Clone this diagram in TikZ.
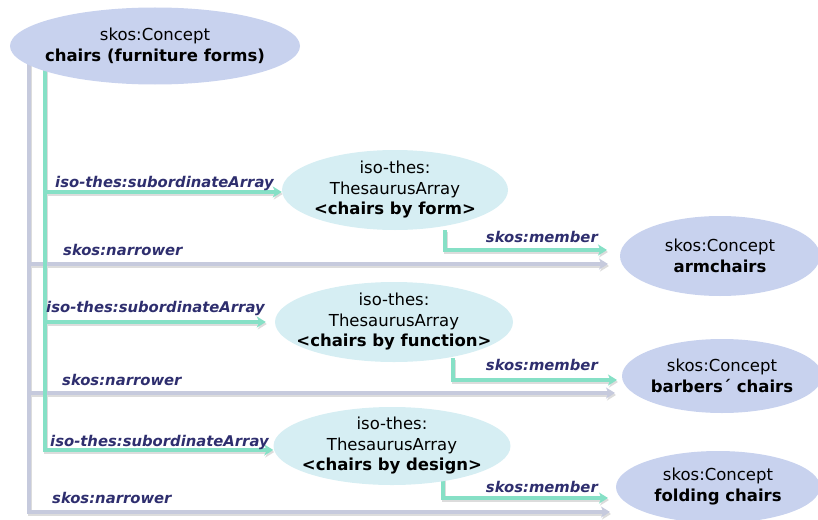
\documentclass[tikz,border=0pt]{standalone}
\usepackage{fontspec}
\setmainfont{DejaVu Sans}
\usetikzlibrary{shapes.geometric,arrows.meta,backgrounds}
\definecolor{conceptfill}{HTML}{C8D2EE}
\definecolor{arrayfill}{HTML}{D6EEF3}
\definecolor{tealline}{HTML}{86E0C6}
\definecolor{grayline}{HTML}{C6CADD}
\definecolor{shadowcol}{HTML}{DCDCDC}
\definecolor{labelcol}{HTML}{2E2E6E}
\newcommand\myconnectors[2]{%
  \draw[#1] (top.center -| gx) |- (n1);
  \draw[#1] (top.center -| gx) |- (n2);
  \draw[#1] (top.center -| gx) |- (n3);
  \draw[#2] (top.center -| tx) |- ([yshift=-2pt]a1.west);
  \draw[#2,shorten >=9pt] (top.center -| tx) |- (a2.west);
  \draw[#2] (top.center -| tx) |- ([yshift=-4pt]a3.west);
  \draw[#2] (m1s) |- (m1e);
  \draw[#2] (m2s) |- (m2e);
  \draw[#2] (m3s) |- (m3e);
}
\begin{document}
\begin{tikzpicture}[x=1pt,y=-1pt,
  concept/.style={ellipse,fill=conceptfill,inner xsep=-45pt,inner ysep=-20pt,align=center,font=\fontsize{16.5}{21}\selectfont},
  thesarray/.style={ellipse,fill=arrayfill,inner xsep=-45pt,inner ysep=-20pt,align=center,font=\fontsize{16.5}{20.5}\selectfont},
  rel/.style={font=\fontsize{14.8}{16}\selectfont\bfseries\itshape,text=labelcol,inner sep=0pt,anchor=west},
  tipstyle/.style={-{Stealth[length=9pt,width=11pt,inset=2.5pt]}},
  narrowerline/.style={draw=grayline,line width=3.5pt,tipstyle},
  subline/.style={draw=tealline,line width=3.5pt,tipstyle},
  shadowline/.style={draw=shadowcol,line width=3.5pt,tipstyle,transform canvas={shift={(1pt,-2pt)}}},
]
\useasboundingbox (0,0) rectangle (818,519);

% nodes
\node[concept,minimum width=290pt,minimum height=77pt] (top) at (155,46) {skos:Concept\\\textbf{chairs (furniture forms)}};
\node[thesarray,minimum width=226pt,minimum height=80pt] (a1) at (395,190) {iso-thes:\\ThesaurusArray\\\textbf{<chairs by form>}};
\node[thesarray,minimum width=238pt,minimum height=80pt] (a2) at (394,322) {iso-thes:\\ThesaurusArray\\\textbf{<chairs by function>}};
\node[thesarray,minimum width=237pt,minimum height=78pt] (a3) at (392,446) {iso-thes:\\ThesaurusArray\\\textbf{<chairs by design>}};
\node[concept,minimum width=200pt,minimum height=80pt] (c1) at (720,256) {skos:Concept\\\textbf{armchairs}};
\node[concept,minimum width=200pt,minimum height=74pt] (c2) at (722,376) {skos:Concept\\\textbf{barbers´ chairs}};
\node[concept,minimum width=204pt,minimum height=72pt] (c3) at (718,487) {skos:Concept\\\textbf{folding chairs}};

% junction coordinates
\coordinate (gx) at (29,0);
\coordinate (tx) at (45,0);
\coordinate (n1) at (608,264);
\coordinate (n2) at (615,393);
\coordinate (n3) at (610,512);
\coordinate (m1s) at (445,230);
\coordinate (m1e) at (607,250);
\coordinate (m2s) at (453,358);
\coordinate (m2e) at (617,380);
\coordinate (m3s) at (443,478);
\coordinate (m3e) at (608,498);

\begin{scope}[on background layer]
  \myconnectors{shadowline}{shadowline}
  \myconnectors{narrowerline}{subline}
\end{scope}

% labels
\node[rel] (l1) at (55,183) {iso-thes:subordinateArray};
\node[rel] (l2) at (63,250) {skos:narrower};
\node[rel,anchor=east] (l3) at (598,237) {skos:member};
\node[rel] (l4) at (46,308) {iso-thes:subordinateArray};
\node[rel] (l5) at (62,380) {skos:narrower};
\node[rel,anchor=east] (l6) at (598,365) {skos:member};
\node[rel] (l7) at (50,442) {iso-thes:subordinateArray};
\node[rel] (l8) at (52,498) {skos:narrower};
\node[rel,anchor=east] (l9) at (598,487) {skos:member};
\end{tikzpicture}
\end{document}
